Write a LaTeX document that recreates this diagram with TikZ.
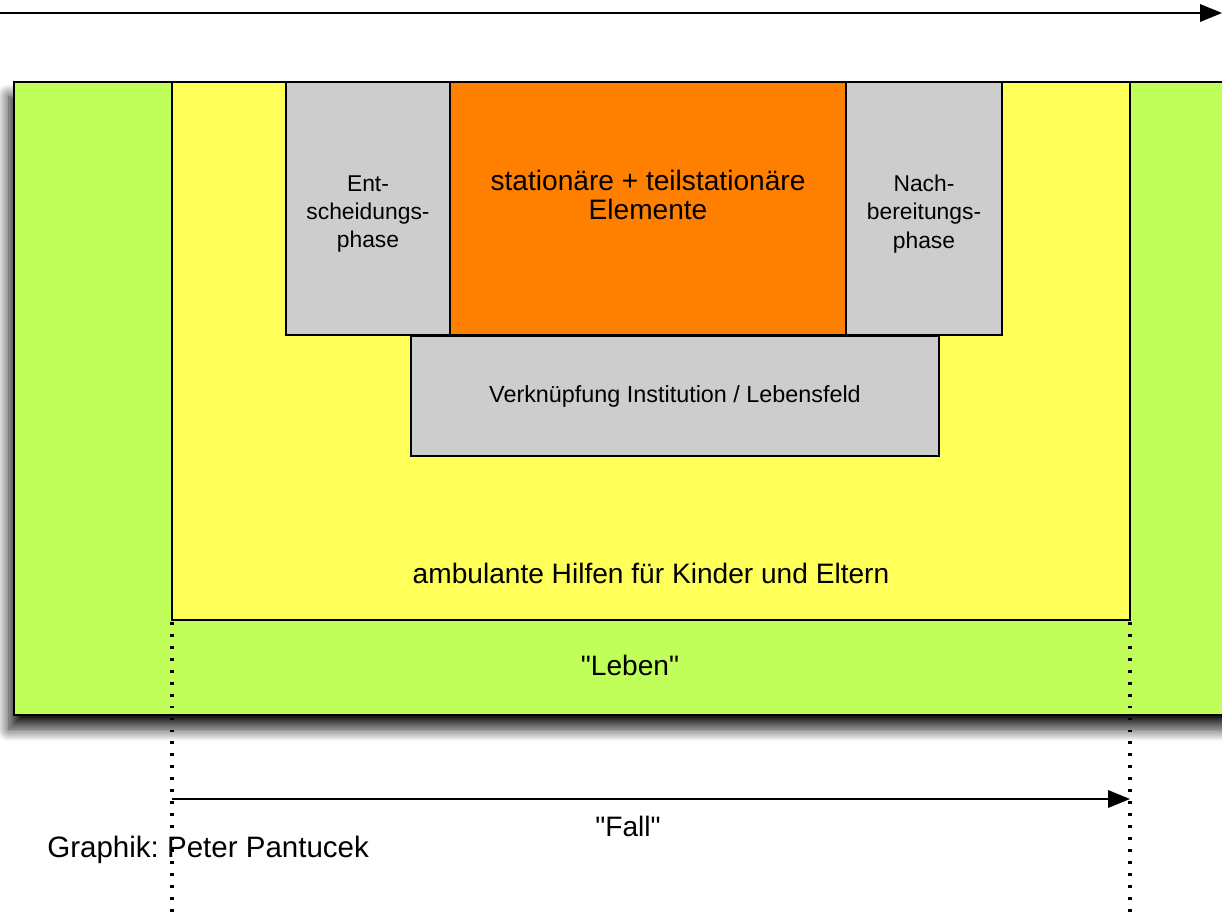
\documentclass[tikz,border=0pt]{standalone}
\usepackage{fontspec}
\setmainfont{Liberation Sans}[Ligatures=TeXOff]
\usepackage{tikz}
\usetikzlibrary{arrows.meta,shadows.blur}
\frenchspacing

\definecolor{lebengreen}{RGB}{192,255,90}
\definecolor{hilfeyellow}{RGB}{255,255,90}
\definecolor{kernorange}{RGB}{255,128,0}
\definecolor{phasegray}{RGB}{205,205,205}

\tikzset{
    feld/.style={shape=rectangle,draw=black,line width=0.8pt,inner sep=0pt},
    zeitpfeil/.style={-{Triangle[length=12.5pt,width=10pt]},line width=0.8pt},
    grenze/.style={line width=2pt,dash pattern=on 1.6pt off 5.2pt},
    phasetext/.style={align=center,font=\fontsize{13}{16.2}\selectfont}
}

\begin{document}
\begin{tikzpicture}[x=0.02cm,y=-0.02cm]
            \useasboundingbox (0,0) rectangle (1222,918);
            \clip (0,0) rectangle (1222,918);

            % top time axis
            \coordinate (start) at (0, 13);
            \coordinate (ende) at (1222, 13);
            \draw [zeitpfeil] (start) -- (ende);

            \node (leben)[feld,fill=lebengreen,minimum width=24.92cm,minimum height=12.66cm,
                blur shadow={shadow xshift=-3pt,shadow yshift=-8pt,shadow blur radius=7pt,
                    shadow blur steps=14,shadow opacity=90}]
                at (637, 398.5) {};
            \node (ambulant)[feld,fill=hilfeyellow,minimum width=19.16cm,minimum height=10.76cm]
                at (651, 351) {};
            \node (entscheidung)[feld,fill=phasegray,minimum width=3.28cm,minimum height=5.06cm]
                at (368, 208.5) {};
            \node (station)[feld,fill=kernorange,minimum width=7.92cm,minimum height=5.06cm]
                at (648, 208.5) {};
            \node (nachbereitung)[feld,fill=phasegray,minimum width=3.12cm,minimum height=5.06cm]
                at (924, 208.5) {};
            \node (verknuepfung)[feld,fill=phasegray,minimum width=10.56cm,minimum height=2.4cm,
                font=\fontsize{13.3}{16}\selectfont]
                at (675, 396) {Verknüpfung Institution / Lebensfeld};

            \node (entscheidungtext)[phasetext] at (368, 214) {Ent-\\scheidungs-\\phase};
            \node (nachbereitungtext)[phasetext] at (924, 214) {Nach-\\bereitungs-\\phase};
            \node (stationtext)[align=center,font=\fontsize{16}{17}\selectfont]
                at (648, 195) {stationäre + teilstationäre\\Elemente};
            \node (ambulanttext)[font=\fontsize{16}{18}\selectfont]
                at (651, 573) {ambulante Hilfen für Kinder und Eltern};
            \node (lebentext)[font=\fontsize{16}{18}\selectfont]
                at (630, 665) {"Leben"};

            % case boundaries
            \coordinate (fallanfang) at (172, 622);
            \coordinate (fallende) at (1130, 622);
            \coordinate (fallanfangunten) at (172, 918);
            \coordinate (fallendeunten) at (1130, 918);
            \draw [grenze] (fallanfang) -- (fallanfangunten);
            \draw [grenze] (fallende) -- (fallendeunten);

            \coordinate (fallstart) at (172, 799);
            \coordinate (fallziel) at (1130, 799);
            \draw [zeitpfeil] (fallstart) -- (fallziel);
            \node (falltext)[font=\fontsize{16}{18}\selectfont]
                at (628, 826) {"Fall"};

            \node (quelle)[anchor=west,inner sep=0pt,font=\fontsize{16.8}{19}\selectfont]
                at (47, 850) {Graphik: Peter Pantucek};
         \end{tikzpicture}
\end{document}
